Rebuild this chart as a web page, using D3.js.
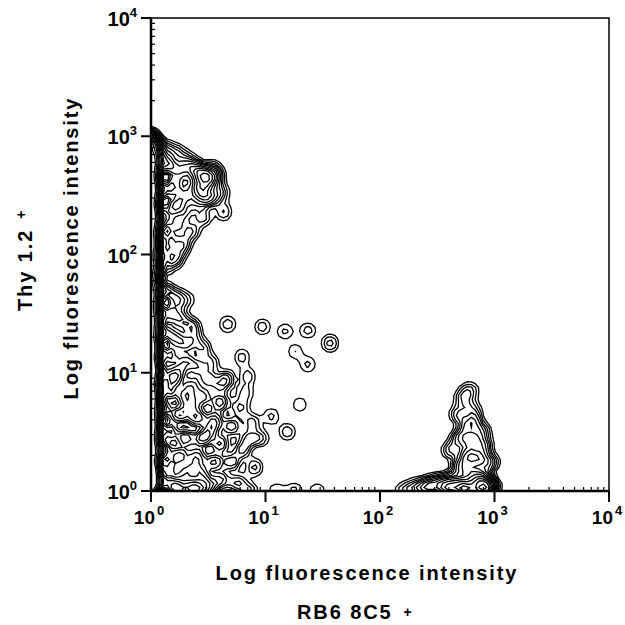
<!DOCTYPE html>
<html><head><meta charset="utf-8">
<script src="https://cdn.jsdelivr.net/npm/d3@7"></script>
<style>
body{margin:0;background:#fff;}
text{font-family:"Liberation Sans",Arial,sans-serif;font-weight:bold;fill:#000;}
</style></head>
<body><svg id="c" width="625" height="625"></svg>
<script>
// Decade exponents of tick labels
const tickExps = [0, 1, 2, 3, 4];
// Events, as [log10 RB6-8C5, log10 Thy1.2, count]
const stripY = [0.03,0.1,0.18,0.26,0.34,0.42,0.5,0.58,0.66,0.74,0.82,0.9,0.98,1.06,1.14,1.22,1.3,1.38,1.46,1.54,1.62,1.7,1.78,1.86,1.94,2.02,2.1,2.18,2.26,2.34,2.42,2.5,2.58,2.66,2.74,2.82,2.9,2.96];
const stripCount = [10,10,10,9,9,9,9,9,9,9,9,9,9,9,9,9,8,8,8,8,8,7,7,7,7,8,8,8,9,9,9,9,9,9,9,8,6,4];
const upperCluster = [[0.08,2.9,2],[0.1,2.8,2],[0.15,2.75,2],[0.2,2.86,1],[0.25,2.7,1.5],[0.3,2.76,1],[0.38,2.72,2],[0.45,2.68,2.5],[0.5,2.62,2],[0.56,2.66,1.5],[0.42,2.55,1.5],[0.35,2.6,1],[0.2,2.6,1.5],[0.12,2.55,2],[0.28,2.5,1.5],[0.4,2.45,1.5],[0.5,2.48,2],[0.6,2.52,1.2],[0.18,2.4,1.5],[0.3,2.35,1],[0.45,2.32,1],[0.63,2.36,0.8],[0.1,2.3,2],[0.22,2.25,1.2],[0.35,2.2,1],[0.15,2.12,1.5],[0.28,2.1,1],[0.12,2.0,1.2],[0.2,1.95,1],[0.1,1.88,1],[0.25,2.02,0.8],[0.3,2.83,0.6],[0.46,2.58,1.2],[0.53,2.72,1],[0.24,2.42,1]];
const lowerCluster = [[0.1,1.7,1.5],[0.2,1.65,1],[0.3,1.62,0.8],[0.12,1.5,1.5],[0.25,1.45,1.2],[0.35,1.4,1],[0.1,1.35,2],[0.2,1.3,1.5],[0.3,1.25,1.5],[0.45,1.2,1],[0.15,1.15,2],[0.3,1.1,1.5],[0.4,1.05,1.2],[0.1,1.0,2],[0.2,0.95,2],[0.35,0.9,1.5],[0.5,0.95,1.2],[0.65,0.95,1],[0.15,0.85,2],[0.3,0.8,2],[0.45,0.8,1.5],[0.6,0.75,1.5],[0.1,0.7,2],[0.25,0.65,2],[0.4,0.62,2],[0.55,0.6,1.5],[0.7,0.55,1.2],[0.15,0.5,2],[0.3,0.45,2],[0.45,0.45,2],[0.6,0.4,1.5],[0.85,0.45,1],[0.95,0.45,0.8],[0.1,0.35,2.5],[0.25,0.3,2.5],[0.4,0.3,2],[0.55,0.25,1.5],[0.7,0.25,1.2],[0.15,0.2,2.5],[0.3,0.15,2.5],[0.45,0.12,2],[0.6,0.1,1.5],[0.75,0.08,1],[0.1,0.08,3],[0.2,0.05,3],[0.35,0.04,2.5],[0.5,0.03,2],[0.22,1.55,0.8],[0.38,1.3,0.8],[0.52,1.08,0.8],[0.6,0.88,0.9],[0.78,0.7,0.9],[0.88,0.58,0.9],[0.8,0.35,1],[0.9,0.2,0.8],[0.52,0.52,1.2],[0.36,0.72,1.2],[0.24,1.02,1.2],[0.4,0.2,1.5],[0.25,0.0,3],[0.4,0.0,3]];
const scattered = [[0.67,1.41,0.7],[0.97,1.39,0.6],[1.17,1.35,0.6],[1.37,1.36,0.6],[1.56,1.25,0.8],[1.26,1.18,0.5],[1.37,1.07,0.6],[0.79,1.13,0.6],[0.84,0.97,0.7],[0.82,0.83,0.7],[1.3,0.73,0.5],[1.05,0.63,0.6],[1.19,0.5,0.7]];
const rightCluster = [[2.78,0.85,0.9],[2.72,0.78,0.8],[2.8,0.7,0.9],[2.68,0.65,0.9],[2.82,0.6,1.2],[2.75,0.55,1.2],[2.88,0.5,1.5],[2.7,0.45,1.5],[2.8,0.42,2],[2.9,0.38,1.5],[2.62,0.35,1],[2.75,0.3,2],[2.85,0.28,2.5],[2.95,0.25,1.5],[2.7,0.2,2],[2.8,0.15,2.5],[2.9,0.12,2.5],[2.6,0.08,2],[2.5,0.05,2.5],[2.4,0.03,2],[2.7,0.05,3.5],[2.85,0.05,3.5],[2.95,0.04,3],[2.3,0.02,1.2],[2.6,0.0,3],[2.75,0.0,4],[2.9,0.0,4]];
const bottomStrip = [[0.85,0.01,0.8],[1.1,0.01,0.5],[1.25,0.01,0.5],[1.45,0.01,0.5],[2.2,0.01,0.6]];

const svg = d3.select("#c");
const L=151, R=609, T=18, B=491;
const x = d3.scaleLinear().domain([0,4]).range([L,R]);
const y = d3.scaleLinear().domain([0,4]).range([B,T]);

const events = [].concat(
  stripY.map((v,i)=>[-0.03,v,stripCount[i]]),
  stripY.map((v,i)=>[-0.005,v,stripCount[i]*0.5]),
  upperCluster, lowerCluster, scattered, rightCluster, bottomStrip);

svg.append("defs").append("clipPath").attr("id","clip")
  .append("rect").attr("x",L).attr("y",T).attr("width",R-L).attr("height",B-T);

const makeDensity = () => d3.contourDensity()
  .x(d=>x(d[0])).y(d=>y(d[1])).weight(d=>d[2])
  .size([625,625]).cellSize(4).bandwidth(4);
const dens = makeDensity().contours(events);
const p1 = makeDensity().contours([[2,2,1]]).max;
const levels = [0.28,0.5,0.75,1.0,1.3,1.65,2.05,2.5,3.0,3.6,4.3,5.1,6,7.2,8.6,10.5,13];
const path = d3.geoPath();
svg.append("g").attr("clip-path","url(#clip)")
  .selectAll("path").data(levels.map(l=>dens(l*p1))).join("path")
  .attr("d", path).attr("fill","none").attr("stroke","#000").attr("stroke-width",1.3)
  .attr("stroke-linejoin","miter");

// frame
svg.append("rect").attr("x",L).attr("y",T).attr("width",R-L).attr("height",B-T)
  .attr("fill","none").attr("stroke","#000").attr("stroke-width",1.5);
svg.append("line").attr("x1",L).attr("x2",L).attr("y1",T).attr("y2",B).attr("stroke","#000").attr("stroke-width",2.5);
svg.append("line").attr("x1",L).attr("x2",R).attr("y1",B).attr("y2",B).attr("stroke","#000").attr("stroke-width",2.5);

// minor ticks (inside)
const minors=[];
for(let d=0; d<4; d++) for(let k=2;k<=9;k++) minors.push(d+Math.log10(k));
svg.append("g").selectAll("line").data(minors).join("line")
  .attr("x1",L).attr("x2",L+4).attr("y1",d=>y(d)).attr("y2",d=>y(d)).attr("stroke","#000").attr("stroke-width",1.2);
svg.append("g").selectAll("line").data(minors).join("line")
  .attr("y1",B).attr("y2",B-4).attr("x1",d=>x(d)).attr("x2",d=>x(d)).attr("stroke","#000").attr("stroke-width",1.2);

// major ticks
svg.append("g").selectAll("line").data(tickExps).join("line")
  .attr("x1",L-10).attr("x2",L).attr("y1",d=>y(d)).attr("y2",d=>y(d)).attr("stroke","#000").attr("stroke-width",2);
svg.append("g").selectAll("line").data(tickExps).join("line")
  .attr("y1",B).attr("y2",B+11).attr("x1",d=>x(d)).attr("x2",d=>x(d)).attr("stroke","#000").attr("stroke-width",2);

// y labels
const yl = svg.append("g").selectAll("text").data(tickExps).join("text")
  .attr("x",L-14).attr("y",d=>y(d)+8).attr("text-anchor","end").style("font-size","20px");
yl.append("tspan").text("10");
yl.append("tspan").attr("dy",-9).style("font-size","13px").text(d=>d);
// x labels
const xl = svg.append("g").selectAll("text").data(tickExps).join("text")
  .attr("x",d=>x(d)-2).attr("y",B+33).attr("text-anchor","middle").style("font-size","19px");
xl.append("tspan").text("10");
xl.append("tspan").attr("dx",2).attr("dy",-9).style("font-size","13px").text(d=>d);

// titles
svg.append("text").attr("x",367).attr("y",580).attr("text-anchor","middle")
  .style("font-size","20px").style("letter-spacing","1.9px").text("Log fluorescence intensity");
const t2 = svg.append("text").attr("x",297).attr("y",619).attr("text-anchor","start")
  .style("font-size","20px").style("letter-spacing","1.9px");
t2.append("tspan").text("RB6 8C5");
t2.append("tspan").attr("dx",11).attr("dy",-2).style("font-size","14px").text("+");
svg.append("text").attr("transform","translate(78,248) rotate(-90)").attr("text-anchor","middle")
  .style("font-size","20px").style("letter-spacing","1.9px").text("Log fluorescence intensity");
const t4 = svg.append("text").attr("transform","translate(32,311) rotate(-90)").attr("text-anchor","start")
  .style("font-size","20px").style("letter-spacing","1.9px");
t4.append("tspan").text("Thy 1.2");
t4.append("tspan").attr("dx",10).attr("dy",-6).style("font-size","14px").text("+");
</script></body></html>
